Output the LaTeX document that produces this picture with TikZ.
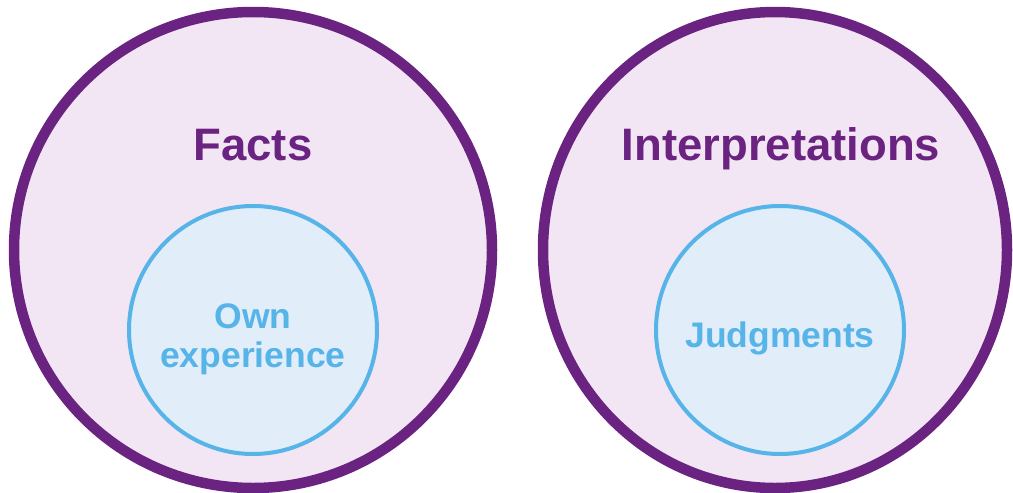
\documentclass[tikz,border=0pt]{standalone}
\usepackage{fontspec}
\setmainfont{Liberation Sans}
\usetikzlibrary{shapes,positioning}
\definecolor{setpurple}{HTML}{6B2381}
\definecolor{setfill}{HTML}{F2E6F4}
\definecolor{subblue}{HTML}{56B4E9}
\definecolor{subfill}{HTML}{E1EDF9}

\begin{document}
\begin{tikzpicture}[x=1pt, y=-1pt,
    bigset/.style={ellipse, draw=setpurple, line width=10.5pt, fill=setfill, inner sep=0pt},
    subset/.style={circle, draw=subblue, line width=4pt, fill=subfill, inner sep=0pt, minimum size=248pt},
    settitle/.style={anchor=base, text=setpurple, font=\fontsize{45.5}{50}\selectfont\bfseries},
    subtitle/.style={anchor=base, text=subblue, align=center, font=\fontsize{35.5}{39}\selectfont\bfseries}]
    % page of the same size as the slide picture
    \useasboundingbox (0,0) rectangle (1013,493);

    % Two outer sets
    \node[bigset, minimum width=478pt, minimum height=476pt] (factset) at (253,250) {};
    \node[bigset, minimum width=464pt, minimum height=476pt] (interpset) at (775,250) {};

    % Inner sets
    \node[subset] (ownset) at (253,330) {};
    \node[subset] (judgeset) at (780,330) {};

    % Labels
    \node[settitle] (facts) at (253,160) {Facts};
    \node[settitle] (interp) at (781,160) {Interpretations};
    \node[subtitle] (own) at (253,328) {Own};
    \node[subtitle] (exper) at (253,367) {experience};
    \node[subtitle] (judge) at (780,347) {Judgments};
\end{tikzpicture}
\end{document}
